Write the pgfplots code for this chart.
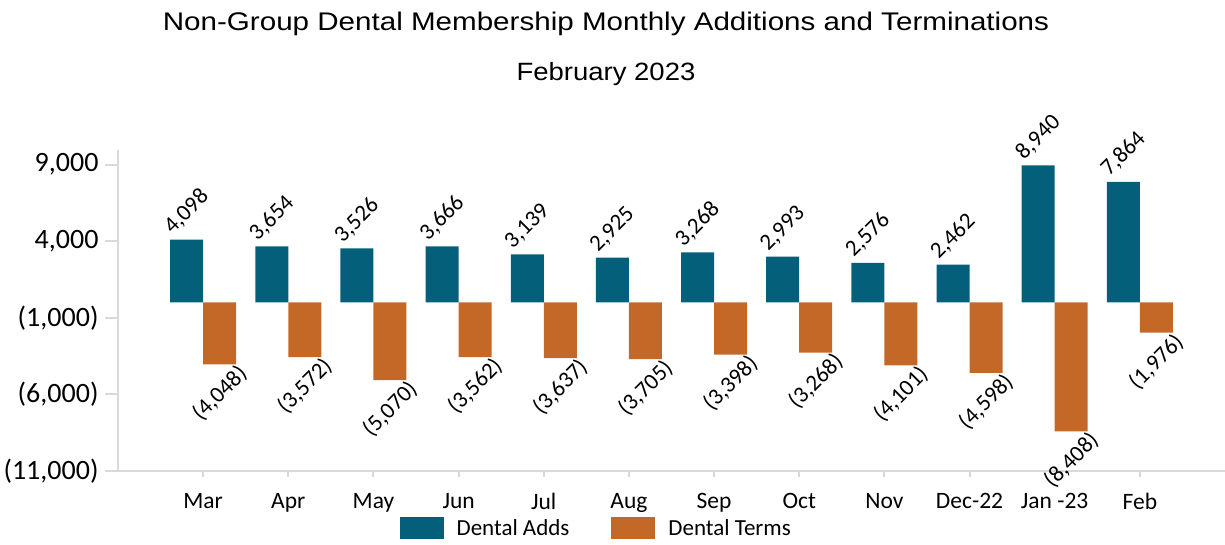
\documentclass[border=0pt]{standalone}
\usepackage{pgfplots}
\pgfplotsset{compat=1.18}
\usepackage{fontspec}
\setmainfont{Carlito}
\newfontfamily\titlefont[FakeStretch=1.16]{Liberation Sans}
\newfontfamily\subtitlefont[FakeStretch=1.10]{Liberation Sans}
\definecolor{adds}{HTML}{04607A}
\definecolor{terms}{HTML}{C46828}
\definecolor{axgray}{HTML}{D9D9D9}
\begin{document}
\begin{tikzpicture}
\path[use as bounding box] (-118pt,-73pt) rectangle (1107pt,471pt);
\begin{axis}[
  at={(0,0)}, anchor=south west,
  scale only axis, width=1107pt, height=321pt,
  xmin=-1, xmax=12, ymin=-11000, ymax=9950,
  clip=false,
  scaled y ticks=false,
  axis lines=left,
  axis line style={-, draw=axgray, line width=2pt},
  /pgf/number format/assume math mode=true,
  ytick={-11000,-6000,-1000,4000,9000},
  yticklabels={{(11,000)},{(6,000)},{(1,000)},{4,000},{9,000}},
  xtick={0,...,11},
  xticklabels={Mar,Apr,May,Jun,Jul,Aug,Sep,Oct,Nov,Dec-22,Jan -23,Feb},
  tick align=outside,
  major tick length=13pt,
  tick style={draw=axgray, line width=2pt},
  xtick style={/pgfplots/major tick length=6pt},
  yticklabel style={font=\fontsize{28}{32}\selectfont, text=black, xshift=-3pt},
  xticklabel style={font=\fontsize{23.5}{27}\selectfont, text=black, yshift=-6pt},
  legend style={at={(rel axis cs:0.4320,-0.1776)}, anchor=center, draw=none, fill=none,
    font=\fontsize{23}{26}\selectfont, legend columns=2,
    /tikz/every even column/.append style={column sep=40pt}},
  legend cell align=left,
  legend image code/.code={\fill[#1] (0pt,-11pt) rectangle (44pt,11pt); \path (55pt,0pt);},
]
\addplot[ybar, bar width=33pt, bar shift=-16.5pt, fill=adds, draw=none,
  point meta=explicit,
  nodes near coords={\pgfmathprintnumber[fixed,precision=0,1000 sep={,}]{\pgfplotspointmeta}},
  nodes near coords style={font=\fontsize{23}{26}\selectfont, text=black, anchor=center, xshift=-16.5pt, yshift=28pt, rotate=45}]
coordinates {
(0,4098) [4098]
(1,3654) [3654]
(2,3526) [3526]
(3,3666) [3666]
(4,3139) [3139]
(5,2925) [2925]
(6,3268) [3268]
(7,2993) [2993]
(8,2576) [2576]
(9,2462) [2462]
(10,8940) [8940]
(11,7864) [7864]
};
\addlegendentry{Dental Adds}
\addplot[ybar, bar width=33pt, bar shift=16.5pt, fill=terms, draw=none,
  point meta=explicit,
  nodes near coords={(\pgfmathprintnumber[fixed,precision=0,1000 sep={,}]{\pgfplotspointmeta})},
  nodes near coords style={font=\fontsize{23}{26}\selectfont, text=black, anchor=center, xshift=16.5pt, yshift=-29pt, rotate=45}]
coordinates {
(0,-4048) [4048]
(1,-3572) [3572]
(2,-5070) [5070]
(3,-3562) [3562]
(4,-3637) [3637]
(5,-3705) [3705]
(6,-3398) [3398]
(7,-3268) [3268]
(8,-4101) [4101]
(9,-4598) [4598]
(10,-8408) [8408]
(11,-1976) [1976]
};
\addlegendentry{Dental Terms}
\node[font=\titlefont\fontsize{25.5}{30}\selectfont, anchor=base] at (rel axis cs:0.4408,1.3738) {Non-Group Dental Membership Monthly Additions and Terminations};
\node[font=\subtitlefont\fontsize{25}{30}\selectfont, anchor=base] at (rel axis cs:0.4408,1.218) {February 2023};
\end{axis}
\end{tikzpicture}
\end{document}
